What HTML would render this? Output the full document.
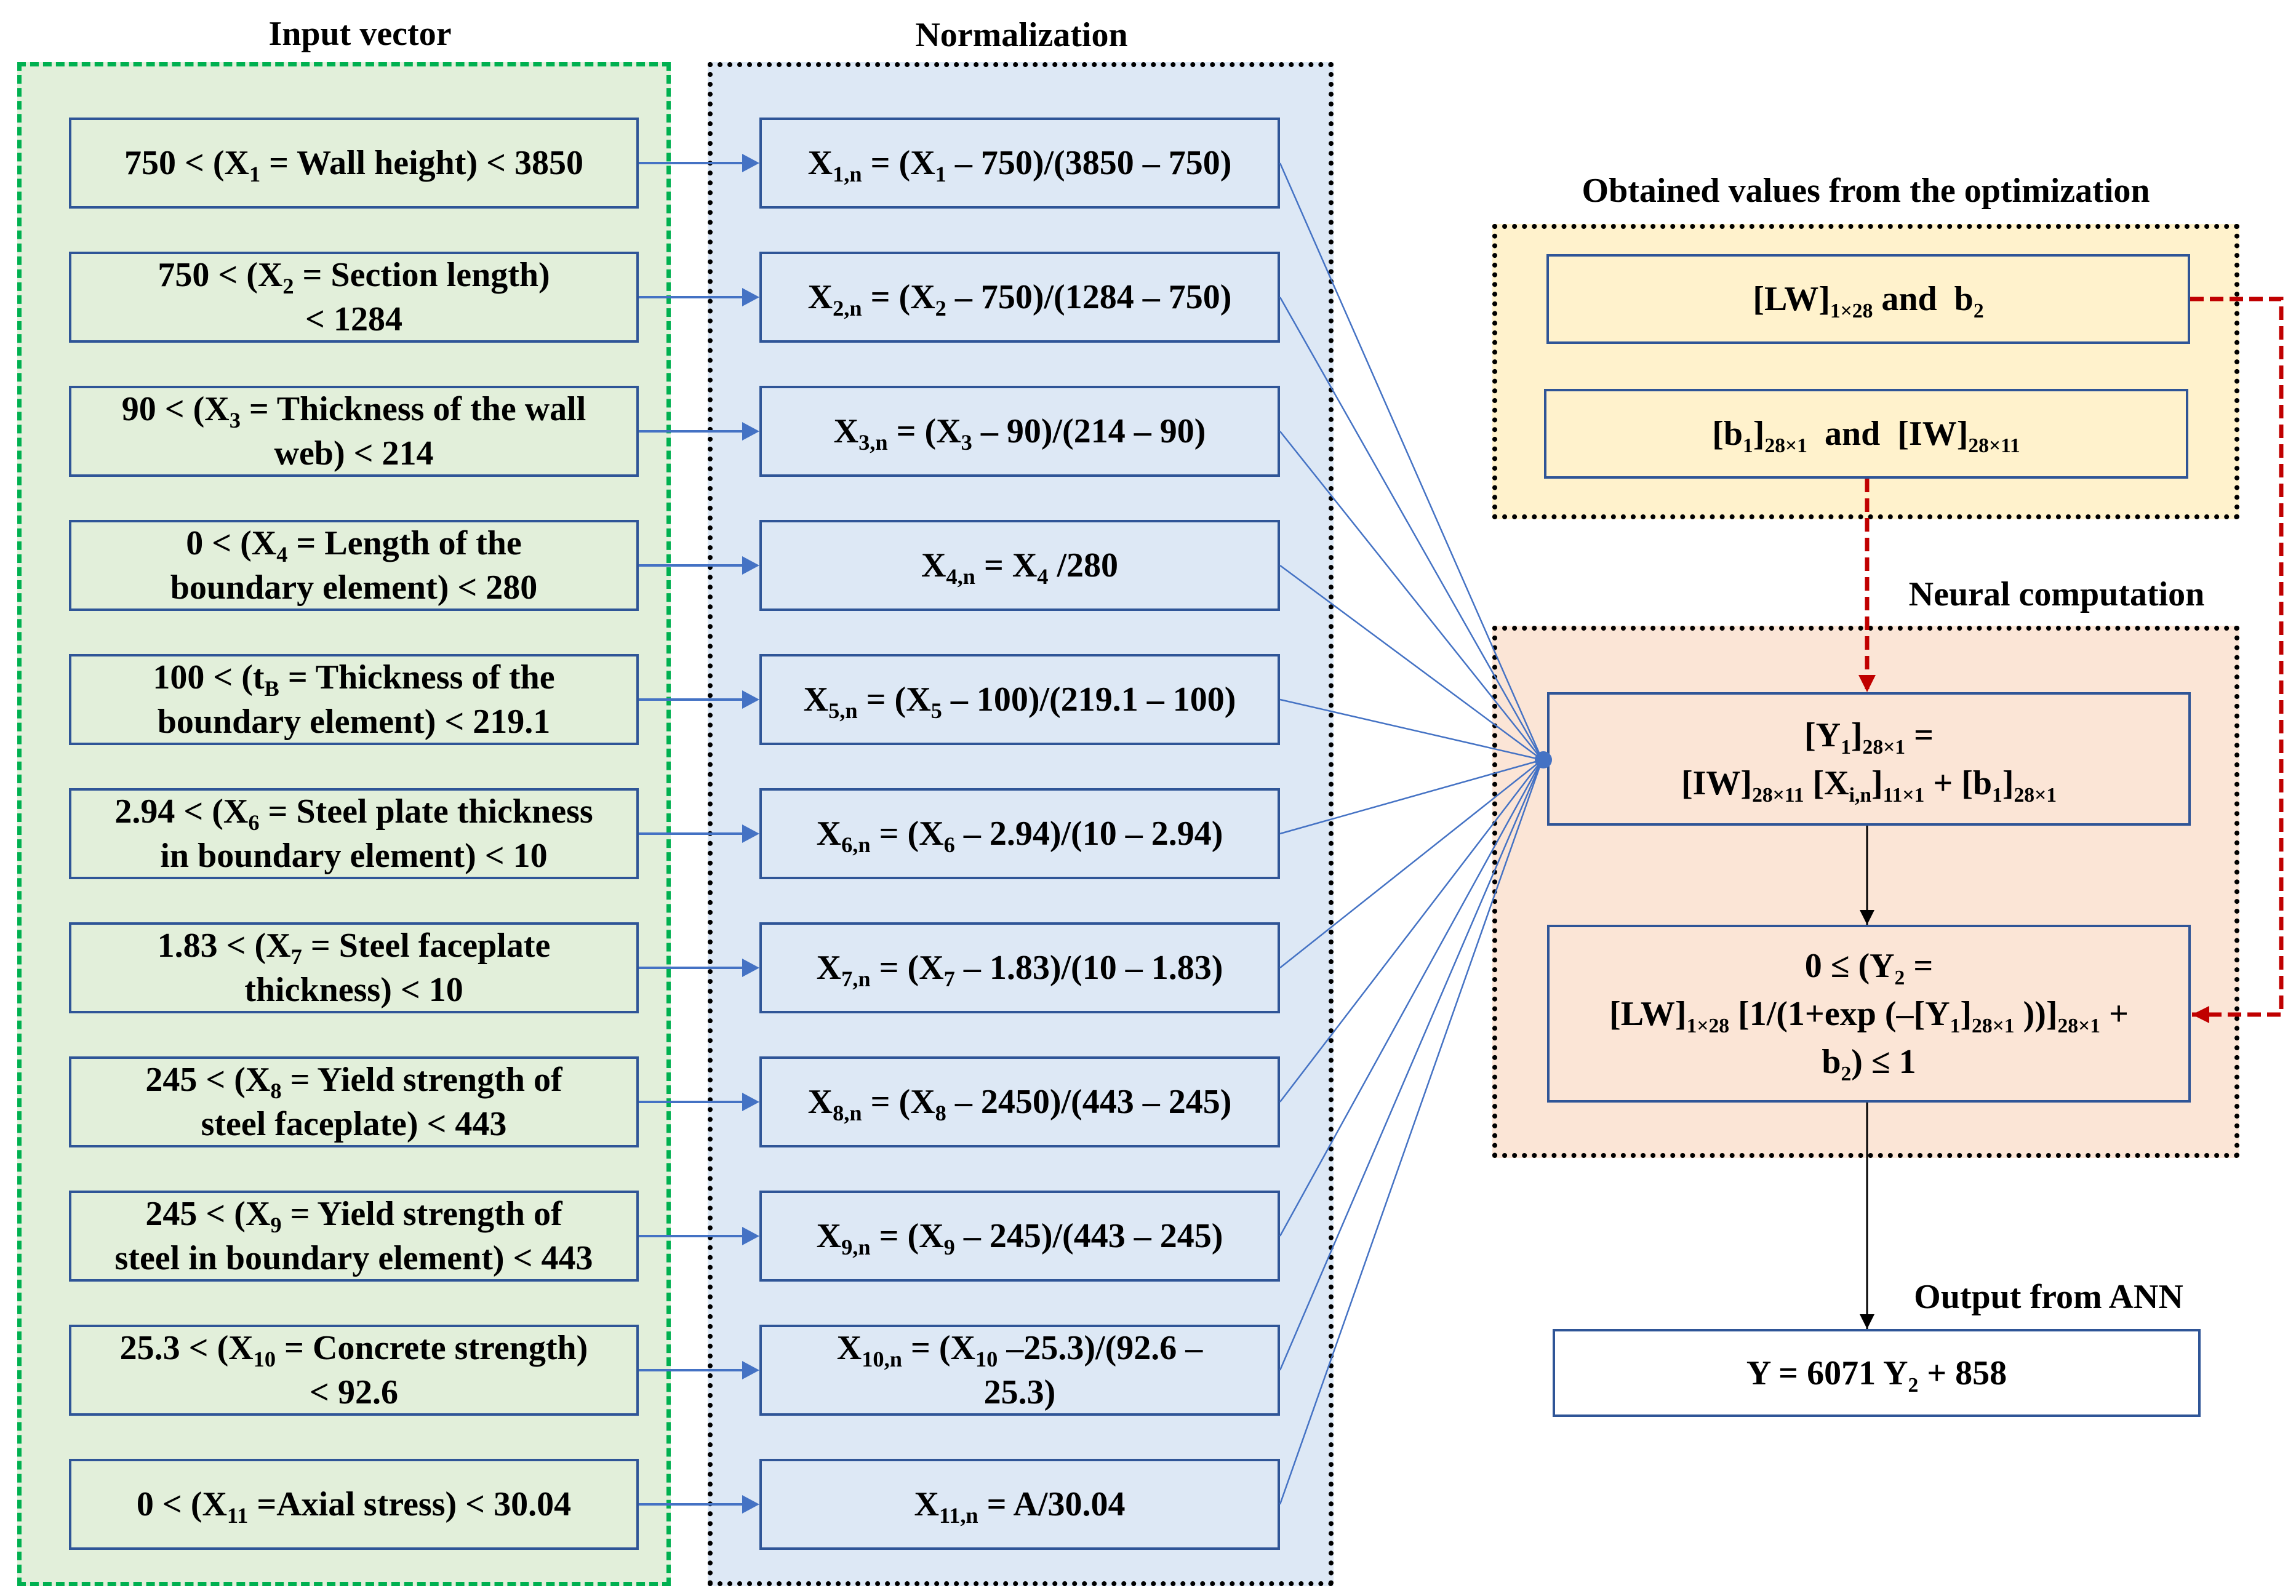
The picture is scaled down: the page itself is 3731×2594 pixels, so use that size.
<!DOCTYPE html>
<html><head><meta charset="utf-8"><style>
body{margin:0;width:3731px;height:2594px;background:#fff;position:relative;overflow:hidden;font-family:"Liberation Serif",serif;font-weight:bold;color:#000}
.a{position:absolute;box-sizing:border-box}
.b{display:flex;align-items:center;justify-content:center;text-align:center;border:4px solid #2f5597;font-size:56px;line-height:72px}
.b>div{width:100%}
.t{position:absolute;font-size:56px;white-space:nowrap;transform:translate(-50%,-50%)}
sub{font-size:0.65em;vertical-align:sub;line-height:1}
.g{background:#e2efda}.n{background:#dde8f5}
.r{font-size:56px;line-height:78px}
.r sub{font-size:0.6em}
</style></head><body>
<div class="t" style="left:585px;top:55px">Input vector</div>
<div class="t" style="left:1660px;top:57px">Normalization</div>
<div class="t" style="left:3032px;top:310px">Obtained values from the optimization</div>
<div class="t" style="left:3342px;top:966px">Neural computation</div>
<div class="t" style="left:3329px;top:2108px">Output from ANN</div>

<div class="a" style="left:28px;top:101px;width:1062px;height:2477px;background:#e2efda;border:7px dashed #00b050"></div>
<div class="a" style="left:1150px;top:101px;width:1017px;height:2477px;background:#dde8f5;border:8px dotted #000"></div>
<div class="a" style="left:2425px;top:364px;width:1214px;height:480px;background:#fff2cc;border:8px dotted #000"></div>
<div class="a" style="left:2425px;top:1017px;width:1214px;height:865px;background:#fbe5d6;border:8px dotted #000"></div>

<div class="a b g" style="left:112px;top:191px;width:926px;height:148px"><div>750 &lt; (X<sub>1</sub> = Wall height) &lt; 3850</div></div>
<div class="a b g" style="left:112px;top:409px;width:926px;height:148px"><div>750 &lt; (X<sub>2</sub> = Section length)<br>&lt; 1284</div></div>
<div class="a b g" style="left:112px;top:627px;width:926px;height:148px"><div>90 &lt; (X<sub>3</sub> = Thickness of the wall<br>web) &lt; 214</div></div>
<div class="a b g" style="left:112px;top:845px;width:926px;height:148px"><div>0 &lt; (X<sub>4</sub> = Length of the<br>boundary element) &lt; 280</div></div>
<div class="a b g" style="left:112px;top:1063px;width:926px;height:148px"><div>100 &lt; (t<sub>B</sub> = Thickness of the<br>boundary element) &lt; 219.1</div></div>
<div class="a b g" style="left:112px;top:1281px;width:926px;height:148px"><div>2.94 &lt; (X<sub>6</sub> = Steel plate thickness<br>in boundary element) &lt; 10</div></div>
<div class="a b g" style="left:112px;top:1499px;width:926px;height:148px"><div>1.83 &lt; (X<sub>7</sub> = Steel faceplate<br>thickness) &lt; 10</div></div>
<div class="a b g" style="left:112px;top:1717px;width:926px;height:148px"><div>245 &lt; (X<sub>8</sub> = Yield strength of<br>steel faceplate) &lt; 443</div></div>
<div class="a b g" style="left:112px;top:1935px;width:926px;height:148px"><div>245 &lt; (X<sub>9</sub> = Yield strength of<br>steel in boundary element) &lt; 443</div></div>
<div class="a b g" style="left:112px;top:2153px;width:926px;height:148px"><div>25.3 &lt; (X<sub>10</sub> = Concrete strength)<br>&lt; 92.6</div></div>
<div class="a b g" style="left:112px;top:2371px;width:926px;height:148px"><div>0 &lt; (X<sub>11</sub> =Axial stress) &lt; 30.04</div></div>

<div class="a b n" style="left:1234px;top:191px;width:846px;height:148px"><div>X<sub>1,n</sub> = (X<sub>1</sub> – 750)/(3850 – 750)</div></div>
<div class="a b n" style="left:1234px;top:409px;width:846px;height:148px"><div>X<sub>2,n</sub> = (X<sub>2</sub> – 750)/(1284 – 750)</div></div>
<div class="a b n" style="left:1234px;top:627px;width:846px;height:148px"><div>X<sub>3,n</sub> = (X<sub>3</sub> – 90)/(214 – 90)</div></div>
<div class="a b n" style="left:1234px;top:845px;width:846px;height:148px"><div>X<sub>4,n</sub> = X<sub>4</sub> /280</div></div>
<div class="a b n" style="left:1234px;top:1063px;width:846px;height:148px"><div>X<sub>5,n</sub> = (X<sub>5</sub> – 100)/(219.1 – 100)</div></div>
<div class="a b n" style="left:1234px;top:1281px;width:846px;height:148px"><div>X<sub>6,n</sub> = (X<sub>6</sub> – 2.94)/(10 – 2.94)</div></div>
<div class="a b n" style="left:1234px;top:1499px;width:846px;height:148px"><div>X<sub>7,n</sub> = (X<sub>7</sub> – 1.83)/(10 – 1.83)</div></div>
<div class="a b n" style="left:1234px;top:1717px;width:846px;height:148px"><div>X<sub>8,n</sub> = (X<sub>8</sub> – 2450)/(443 – 245)</div></div>
<div class="a b n" style="left:1234px;top:1935px;width:846px;height:148px"><div>X<sub>9,n</sub> = (X<sub>9</sub> – 245)/(443 – 245)</div></div>
<div class="a b n" style="left:1234px;top:2153px;width:846px;height:148px"><div>X<sub>10,n</sub> = (X<sub>10</sub> –25.3)/(92.6 –<br>25.3)</div></div>
<div class="a b n" style="left:1234px;top:2371px;width:846px;height:148px"><div>X<sub>11,n</sub> = A/30.04</div></div>

<div class="a b r" style="left:2513px;top:413px;width:1046px;height:146px;background:#fff2cc"><div>[LW]<sub>1×28</sub> and&nbsp; b<sub>2</sub></div></div>
<div class="a b r" style="left:2509px;top:632px;width:1047px;height:146px;background:#fff2cc"><div>[b<sub>1</sub>]<sub>28×1</sub>&nbsp; and&nbsp; [IW]<sub>28×11</sub></div></div>
<div class="a b r" style="left:2514px;top:1125px;width:1046px;height:217px;background:#fbe5d6"><div>[Y<sub>1</sub>]<sub>28×1</sub> =<br>[IW]<sub>28×11</sub> [X<sub>i,n</sub>]<sub>11×1</sub> + [b<sub>1</sub>]<sub>28×1</sub></div></div>
<div class="a b r" style="left:2514px;top:1503px;width:1046px;height:289px;background:#fbe5d6"><div>0 ≤ (Y<sub>2</sub> =<br>[LW]<sub>1×28</sub> [1/(1+exp (–[Y<sub>1</sub>]<sub>28×1</sub> ))]<sub>28×1</sub> +<br>b<sub>2</sub>) ≤ 1</div></div>
<div class="a b r" style="left:2523px;top:2160px;width:1053px;height:143px;background:#fff"><div>Y = 6071 Y<sub>2</sub> + 858</div></div>

<svg class="a" style="left:0;top:0" width="3731" height="2594">
<defs>
<marker id="bk" markerWidth="24" markerHeight="24" refX="24" refY="12" orient="auto" markerUnits="userSpaceOnUse"><path d="M0,0L24,12L0,24z" fill="#000"/></marker>
<marker id="rd" markerWidth="28" markerHeight="28" refX="28" refY="14" orient="auto" markerUnits="userSpaceOnUse"><path d="M0,0L28,14L0,28z" fill="#c00000"/></marker>
</defs>
<path d="M1038 265H1210M1038 483H1210M1038 701H1210M1038 919H1210M1038 1137H1210M1038 1355H1210M1038 1573H1210M1038 1791H1210M1038 2009H1210M1038 2227H1210M1038 2445H1210" stroke="#4472c4" stroke-width="4" fill="none"/>
<g fill="#4472c4">
<path d="M1206 250L1234 265L1206 280zM1206 468L1234 483L1206 498zM1206 686L1234 701L1206 716zM1206 904L1234 919L1206 934zM1206 1122L1234 1137L1206 1152zM1206 1340L1234 1355L1206 1370zM1206 1558L1234 1573L1206 1588zM1206 1776L1234 1791L1206 1806zM1206 1994L1234 2009L1206 2024zM1206 2212L1234 2227L1206 2242zM1206 2430L1234 2445L1206 2460z"/>
</g>
<g stroke="#4472c4" stroke-width="2.5">
<line x1="2080" y1="265" x2="2506" y2="1235"/><line x1="2080" y1="483" x2="2506" y2="1235"/><line x1="2080" y1="701" x2="2506" y2="1235"/><line x1="2080" y1="919" x2="2506" y2="1235"/><line x1="2080" y1="1137" x2="2506" y2="1235"/><line x1="2080" y1="1355" x2="2506" y2="1235"/><line x1="2080" y1="1573" x2="2506" y2="1235"/><line x1="2080" y1="1791" x2="2506" y2="1235"/><line x1="2080" y1="2009" x2="2506" y2="1235"/><line x1="2080" y1="2227" x2="2506" y2="1235"/><line x1="2080" y1="2445" x2="2506" y2="1235"/>
</g>
<circle cx="2508" cy="1235" r="14" fill="#4472c4"/>
<line x1="3034" y1="1342" x2="3034" y2="1503" stroke="#000" stroke-width="3" marker-end="url(#bk)"/>
<line x1="3034" y1="1792" x2="3034" y2="2160" stroke="#000" stroke-width="3" marker-end="url(#bk)"/>
<line x1="3034" y1="778" x2="3034" y2="1125" stroke="#c00000" stroke-width="7" stroke-dasharray="22 10" marker-end="url(#rd)"/>
<polyline points="3559,486 3707,486 3707,1649 3562,1649" fill="none" stroke="#c00000" stroke-width="7" stroke-dasharray="22 10" marker-end="url(#rd)"/>
</svg>
</body></html>
